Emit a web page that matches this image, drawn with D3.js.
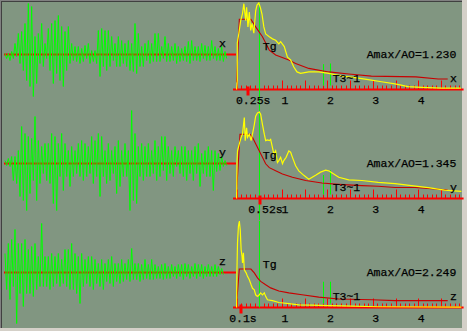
<!DOCTYPE html>
<html>
<head>
<meta charset="utf-8">
<script src="https://cdn.jsdelivr.net/npm/d3@7"></script>
<style>
body { margin: 0; background: #d4d0c8; }
svg { display: block; }
text { font-family: "Liberation Mono", monospace; font-size: 11.5px; fill: #000; stroke: #000; stroke-width: 0.25px; }
</style>
</head>
<body>
<svg width="467" height="331"></svg>
<script>
// components and per-component summary values
const components = ["x", "y", "z"];
const amaxRatio = [1.230, 1.345, 2.249];
const peakPeriod = [0.25, 0.52, 0.1];
const peakLabels = ["0.25s", "0.52s", "0.1s"];
const periodTicks = [1, 2, 3, 4];
const tgPeriod = 0.5;
const t3Periods = [1.9, 2.05];
const t3Heights = [[0.36, 0.37], [0.365, 0.44], [0.67, 0.67]];

// acceleration time histories: [peak up, peak down] per column
const accX = [[1,4],[1,6],[3,4],[11,2],[21,9],[23,16],[31,26],[51,32],[48,42],[18,29],
  [21,9],[31,12],[11,4],[26,16],[31,29],[34,19],[39,26],[28,32],[23,16],[28,9],
  [11,6],[8,7],[8,9],[6,7],[9,4],[11,9],[4,7],[4,9],[24,22],[26,12],
  [24,16],[24,12],[18,6],[11,12],[18,12],[14,9],[11,12],[14,16],[11,17],[31,19],
  [21,12],[8,12],[11,6],[14,9],[11,7],[21,7],[21,7],[8,4],[18,7],[11,7],
  [8,6],[11,9],[8,7],[6,6],[8,7],[13,9],[14,6],[8,6],[8,7],[11,4],
  [9,6],[8,6],[14,4],[8,6],[6,6],[8,7],[3,4]];
const accY = [[3,2],[5,3],[7,17],[7,20],[13,33],[37,37],[30,47],[27,30],[25,17],[47,37],
  [23,20],[17,10],[20,17],[20,20],[30,40],[27,47],[20,13],[30,27],[20,13],[13,23],
  [17,13],[13,10],[20,13],[23,17],[20,13],[17,10],[27,20],[23,13],[30,33],[27,13],
  [13,20],[20,17],[13,10],[17,30],[23,23],[13,13],[20,13],[13,47],[53,37],[30,40],
  [17,13],[20,17],[17,13],[20,13],[13,10],[23,17],[17,13],[27,7],[27,17],[17,10],
  [13,13],[17,3],[13,10],[17,13],[17,17],[13,10],[13,17],[17,10],[20,23],[10,10],
  [13,13],[17,13],[13,27],[13,8],[10,7],[7,3],[3,2]];
const accZ = [[19,17],[29,27],[33,14],[43,51],[29,21],[29,34],[33,21],[23,21],[26,24],[29,17],
  [16,14],[49,14],[16,14],[16,17],[19,14],[16,11],[19,14],[13,11],[23,14],[23,17],
  [29,17],[19,21],[16,31],[19,14],[13,11],[16,14],[16,17],[13,11],[9,14],[13,17],
  [9,9],[13,11],[16,14],[9,9],[9,11],[13,9],[9,7],[13,9],[24,7],[9,7],
  [9,9],[8,7],[13,6],[8,7],[13,7],[8,6],[6,6],[8,7],[9,6],[6,6],
  [8,4],[6,6],[8,4],[8,7],[9,4],[8,6],[6,4],[9,6],[8,4],[8,6],
  [6,4],[8,4],[6,4],[8,4],[6,2],[4,2]];

// response spectra [period s, Sa/A0]
const respX = [[0,0],[0.015,0.13],[0.015,0.66],[0.05,0.80],[0.09,0.98],[0.13,1.08],[0.16,1.22],[0.20,0.98],
  [0.22,1.17],[0.25,0.89],[0.28,1.10],[0.31,0.84],[0.34,0.94],[0.38,0.80],[0.42,1.12],[0.45,1.20],
  [0.49,1.23],[0.53,1.15],[0.56,1.07],[0.60,0.89],[0.64,0.79],[0.72,0.75],[0.79,0.72],[0.86,0.70],
  [0.93,0.65],[0.97,0.68],[1.05,0.61],[1.12,0.46],[1.19,0.42],[1.26,0.32],[1.33,0.25],[1.41,0.23],
  [1.59,0.25],[1.81,0.25],[2.03,0.23],[2.32,0.19],[2.61,0.17],[2.90,0.14],[3.19,0.11],[3.49,0.08],
  [3.78,0.04],[4.07,0.03],[4.51,0.02],[4.94,0.02]];
const respY = [[0,0],[0.01,0.59],[0.02,0.74],[0.06,0.85],[0.10,0.95],[0.13,1.00],[0.17,1.26],[0.19,0.90],
  [0.22,1.10],[0.24,0.95],[0.28,1.00],[0.32,0.90],[0.35,1.00],[0.39,1.15],[0.42,1.28],[0.46,1.33],
  [0.50,1.345],[0.53,1.31],[0.57,1.15],[0.61,1.00],[0.64,0.90],[0.68,0.91],[0.72,0.90],[0.75,0.92],
  [0.79,0.79],[0.82,0.69],[0.86,0.74],[0.90,0.56],[0.93,0.59],[0.97,0.64],[1.01,0.54],[1.04,0.59],
  [1.09,0.64],[1.15,0.74],[1.19,0.72],[1.23,0.64],[1.30,0.51],[1.37,0.43],[1.48,0.36],[1.59,0.30],
  [1.74,0.36],[1.85,0.41],[1.96,0.44],[2.03,0.43],[2.14,0.38],[2.25,0.33],[2.47,0.29],[2.76,0.28],
  [3.12,0.25],[3.49,0.23],[3.85,0.20],[4.22,0.17],[4.58,0.13],[4.95,0.11]];
const respZ = [[0,0],[0.005,0.81],[0.02,1.68],[0.04,2.11],[0.06,2.249],[0.08,2.02],[0.10,1.50],[0.12,1.33],
  [0.13,1.16],[0.15,1.42],[0.17,0.98],[0.21,0.90],[0.24,0.81],[0.28,0.72],[0.32,0.59],[0.35,0.50],
  [0.39,0.46],[0.42,0.33],[0.46,0.29],[0.50,0.33],[0.53,0.38],[0.57,0.33],[0.61,0.38],[0.64,0.29],
  [0.68,0.20],[0.79,0.18],[0.93,0.13],[1.15,0.10],[1.37,0.07],[1.66,0.06],[2.03,0.05],[2.32,0.04],
  [3.12,0.02],[4.95,0.01]];

// design spectra [period s, alpha/alpha_max]
const designX = [[0,0.1],[0.06,1],[0.315,1],[0.42,0.89],[0.57,0.75],[0.72,0.56],[0.86,0.49],[1.15,0.42],
  [1.30,0.37],[1.59,0.30],[2.03,0.25],[2.47,0.22],[2.97,0.19],[3.95,0.18],[4.44,0.15],[4.65,0.15]];
const designY = [[0,0.1],[0.075,1],[0.295,1],[0.35,0.95],[0.42,0.85],[0.50,0.74],[0.57,0.64],[0.64,0.54],
  [0.72,0.48],[0.86,0.43],[1.01,0.38],[1.23,0.33],[1.52,0.28],[1.88,0.24],[2.25,0.22],[2.76,0.20],
  [3.12,0.19],[3.49,0.17],[3.93,0.17],[4.36,0.15],[4.65,0.13]];
const designZ = [[0,0.1],[0.06,1],[0.315,1],[0.39,0.90],[0.46,0.77],[0.53,0.68],[0.64,0.59],[0.75,0.51],
  [0.93,0.43],[1.15,0.38],[1.44,0.33],[1.81,0.27],[2.25,0.22],[2.98,0.20],[3.49,0.18],[4.44,0.18],[4.65,0.18]];

const accs = [accX, accY, accZ];
const resps = [respX, respY, respZ];
const designs = [designX, designY, designZ];

let svg = d3.select("svg");

// sunken frame
svg.append("rect").attr("width", 467).attr("height", 331).attr("fill", "#d4d0c8");
svg.append("rect").attr("width", 462).attr("height", 328).attr("fill", "#808080");
svg.append("rect").attr("x", 1).attr("y", 1).attr("width", 461).attr("height", 327).attr("fill", "#404040");
svg.append("rect").attr("x", 2).attr("y", 2).attr("width", 460).attr("height", 326).attr("fill", "#819681");

let sx = d3.scaleLinear().domain([0, 5]).range([236.6, 463.6]);
// snap vertical hairlines to the pixel grid
let px = v => Math.round(sx(v)) + 0.5;

components.forEach((comp, r) => {
  let base = 89.5 + r * 109;
  let thBase = base - 35;
  let g = svg.append("g");

  // ---- time history ----
  let acc = accs[r];
  let tx = d3.scaleLinear().domain([0, 66]).range([5, 225]);
  let ty = d3.scaleLinear().domain([-55, 55]).range([thBase + 55, thBase - 55]);

  g.append("line")
    .attr("x1", 4).attr("x2", 236)
    .attr("y1", ty(0)).attr("y2", ty(0))
    .attr("stroke", "#ff0000").attr("stroke-width", 2);

  let pts = [];
  acc.forEach((d, i) => {
    pts.push([tx(i), ty(d[0])]);
    pts.push([tx(i + 0.5), ty(-d[1])]);
  });
  g.append("path")
    .attr("d", d3.line()(pts))
    .attr("fill", "none")
    .attr("stroke", "#00ff00")
    .attr("stroke-width", 1);

  g.append("text").attr("x", 219).attr("y", thBase - 7.7).text(comp);

  // ---- spectrum ----
  let sy = d3.scaleLinear().domain([0, amaxRatio[r]]).range([base, base - 86.5]);

  g.append("line")
    .attr("x1", 233).attr("x2", sx(5))
    .attr("y1", base).attr("y2", base)
    .attr("stroke", "#ff0000").attr("stroke-width", 2.2);

  g.selectAll(".tick")
    .data(sx.ticks(50).filter(t => t < 5))
    .enter().append("line")
    .attr("x1", d => px(d))
    .attr("x2", d => px(d))
    .attr("y1", base)
    .attr("y2", d => Math.abs(d * 2 - Math.round(d * 2)) < 1e-6 ? base - 9 : base - 4)
    .attr("stroke", "#ff0000").attr("stroke-width", 1);

  // Tg line
  g.append("line")
    .attr("x1", px(tgPeriod)).attr("x2", px(tgPeriod))
    .attr("y1", sy(amaxRatio[r])).attr("y2", r < 2 ? base + 21.5 : base)
    .attr("stroke", "#00ff00").attr("stroke-width", 1);

  // T3 lines
  t3Periods.forEach((t, k) => {
    g.append("line")
      .attr("x1", px(t)).attr("x2", px(t))
      .attr("y1", sy(t3Heights[r][k])).attr("y2", base - 4)
      .attr("stroke", "#00ff00").attr("stroke-width", 1);
  });

  let line = d3.line().x(d => sx(d[0])).y(d => sy(d[1]));

  g.append("path")
    .attr("d", line(designs[r]))
    .attr("fill", "none")
    .attr("stroke", "#c80000")
    .attr("stroke-width", 1.1);

  g.append("path")
    .attr("d", line(resps[r]))
    .attr("fill", "none")
    .attr("stroke", "#ffff00")
    .attr("stroke-width", 1.2);

  // predominant period marker
  g.append("line")
    .attr("x1", Math.round(sx(peakPeriod[r]))).attr("x2", Math.round(sx(peakPeriod[r])))
    .attr("y1", base - 3).attr("y2", base + 6)
    .attr("stroke", "#ff0000").attr("stroke-width", 3);

  g.append("text").attr("x", sx(peakPeriod[r]) - 12).attr("y", base + 14.5).text(peakLabels[r]);

  g.selectAll(".plab")
    .data(periodTicks)
    .enter().append("text")
    .attr("x", d => sx(d) + 3)
    .attr("y", base + 14.5)
    .attr("text-anchor", "middle")
    .text(d => d);

  g.append("text").attr("x", sx(tgPeriod) + 3.5).attr("y", base - 39.5).text("Tg");

  g.append("text").attr("x", sx(t3Periods[1]) + 3).attr("y", base - 7.5).text("T3~1");

  g.append("text").attr("x", 366.7).attr("y", base - 31.8)
    .text("Amax/AO=" + amaxRatio[r].toFixed(3));

  g.append("text").attr("x", 450).attr("y", base - 7.8).text(comp);
});
</script>
</body>
</html>
